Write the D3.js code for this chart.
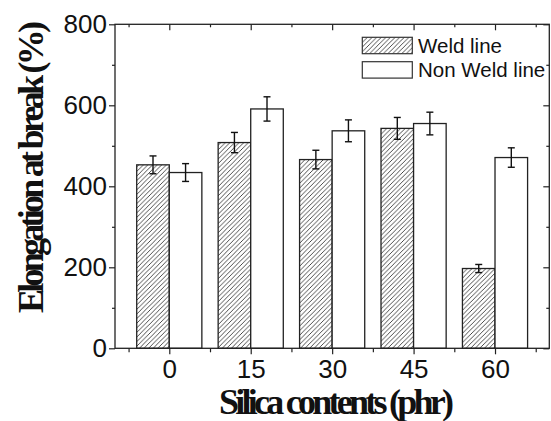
<!DOCTYPE html>
<html><head><meta charset="utf-8">
<script src="https://cdn.jsdelivr.net/npm/d3@7/dist/d3.min.js"></script>
<style>html,body{margin:0;padding:0;background:#fff;}svg{display:block;}</style>
</head><body>
<svg id="c" width="551" height="421"></svg>
<script>
const categories = [0, 15, 30, 45, 60];
const weldLine = [453, 508, 466, 543, 197];
const weldErr = [22, 25, 23, 27, 10];
const nonWeldLine = [434, 591, 537, 555, 471];
const nonWeldErr = [22, 30, 27, 28, 24];
const yTicks = [0, 200, 400, 600, 800];
const xTicks = [0, 15, 30, 45, 60];
const seriesNames = ["Weld line", "Non Weld line"];

const svg = d3.select("#c");
const W = 551, H = 421;
svg.append("rect").attr("width", W).attr("height", H).attr("fill", "#fff");

const L = 115, R = 549.3, T = 24.3, B = 348.3;
const x = d3.scaleLinear().domain([-10, 70]).range([L, R]);
const y = d3.scaleLinear().domain([0, 800]).range([B, T]);
const barW = 6;

const defs = svg.append("defs");
const hs = 4.6;
const pat = defs.append("pattern").attr("id", "hatch").attr("patternUnits", "userSpaceOnUse")
  .attr("width", hs).attr("height", hs);
pat.append("rect").attr("width", hs).attr("height", hs).attr("fill", "#fff");
pat.append("path").attr("d", `M${-hs/4},${hs/4} L${hs/4},${-hs/4} M0,${hs} L${hs},0 M${hs*0.75},${hs*1.25} L${hs*1.25},${hs*0.75}`)
  .attr("stroke", "#222").attr("stroke-width", 0.8);

const g = svg.append("g");
const bars = g.append("g");
categories.forEach((c, i) => {
  bars.append("rect").attr("x", x(c - barW)).attr("y", y(weldLine[i]))
    .attr("width", x(c) - x(c - barW)).attr("height", y(0) - y(weldLine[i]))
    .attr("fill", "url(#hatch)").attr("stroke", "#222").attr("stroke-width", 1.3);
  bars.append("rect").attr("x", x(c)).attr("y", y(nonWeldLine[i]))
    .attr("width", x(c + barW) - x(c)).attr("height", y(0) - y(nonWeldLine[i]))
    .attr("fill", "#fff").attr("stroke", "#222").attr("stroke-width", 1.3);
});
function errBar(cx, v, e) {
  const eg = g.append("g").attr("stroke", "#111").attr("stroke-width", 1.4);
  eg.append("line").attr("x1", cx).attr("x2", cx).attr("y1", y(v - e)).attr("y2", y(v + e));
  eg.append("line").attr("x1", cx - 3.5).attr("x2", cx + 3.5).attr("y1", y(v - e)).attr("y2", y(v - e));
  eg.append("line").attr("x1", cx - 3.5).attr("x2", cx + 3.5).attr("y1", y(v + e)).attr("y2", y(v + e));
}
categories.forEach((c, i) => {
  errBar(x(c - barW / 2), weldLine[i], weldErr[i]);
  errBar(x(c + barW / 2), nonWeldLine[i], nonWeldErr[i]);
});

const minorX = d3.range(-7.5, 70, 15);
const minorY = d3.range(100, 800, 200);
const axStroke = "#222";
const sans = "Liberation Sans, Arial, sans-serif";
function styleAxis(sel) {
  sel.select(".domain").remove();
  sel.selectAll("line").attr("stroke", axStroke).attr("stroke-width", 1.2);
}
const xb = svg.append("g").attr("transform", `translate(0,${B})`)
  .call(d3.axisBottom(x).tickValues(xTicks).tickSize(6).tickPadding(5));
styleAxis(xb);
xb.selectAll("text").attr("font-family", sans).attr("font-size", 26).attr("fill", "#111");
svg.append("g").attr("transform", `translate(0,${B})`)
  .call(d3.axisBottom(x).tickValues(minorX).tickSize(4).tickFormat("")).call(styleAxis);
svg.append("g").attr("transform", `translate(0,${T})`)
  .call(d3.axisBottom(x).tickValues(xTicks).tickSize(6).tickFormat("")).call(styleAxis);
svg.append("g").attr("transform", `translate(0,${T})`)
  .call(d3.axisBottom(x).tickValues(minorX).tickSize(3).tickFormat("")).call(styleAxis);
const yl = svg.append("g").attr("transform", `translate(${L},0)`)
  .call(d3.axisLeft(y).tickValues(yTicks).tickSize(6).tickPadding(2));
styleAxis(yl);
yl.selectAll("text").attr("font-family", sans).attr("font-size", 26).attr("fill", "#111");
svg.append("g").attr("transform", `translate(${L},0)`)
  .call(d3.axisLeft(y).tickValues(minorY).tickSize(3).tickFormat("")).call(styleAxis);
svg.append("g").attr("transform", `translate(${R},0)`)
  .call(d3.axisLeft(y).tickValues(yTicks).tickSize(6).tickFormat("")).call(styleAxis);
svg.append("g").attr("transform", `translate(${R},0)`)
  .call(d3.axisLeft(y).tickValues(minorY).tickSize(3).tickFormat("")).call(styleAxis);
svg.append("rect").attr("x", L).attr("y", T).attr("width", R - L).attr("height", B - T)
  .attr("fill", "none").attr("stroke", axStroke).attr("stroke-width", 1.3);

const lg = svg.append("g");
[0, 1].forEach(k => {
  const ly = 37.3 + k * 24.4;
  lg.append("rect").attr("x", 362.3).attr("y", ly).attr("width", 50).attr("height", 16.4)
    .attr("fill", k === 0 ? "url(#hatch)" : "#fff").attr("stroke", "#333").attr("stroke-width", 1.2);
  lg.append("text").attr("x", 418).attr("y", ly + 15.5).text(seriesNames[k])
    .attr("font-family", sans).attr("font-size", 20.5).attr("fill", "#111");
});

svg.append("text").attr("x", 219).attr("y", 414).text("Silica contents (phr)")
  .attr("font-family", "Liberation Serif, Times New Roman, serif").attr("font-weight", "bold")
  .attr("font-size", 36).attr("textLength", 235).attr("lengthAdjust", "spacing").attr("fill", "#111");
svg.append("text").attr("transform", "translate(43,313) rotate(-90)").text("Elongation at break (%)")
  .attr("font-family", "Liberation Serif, Times New Roman, serif").attr("font-weight", "bold")
  .attr("font-size", 36).attr("textLength", 292).attr("lengthAdjust", "spacing").attr("fill", "#111");
</script>
</body></html>
